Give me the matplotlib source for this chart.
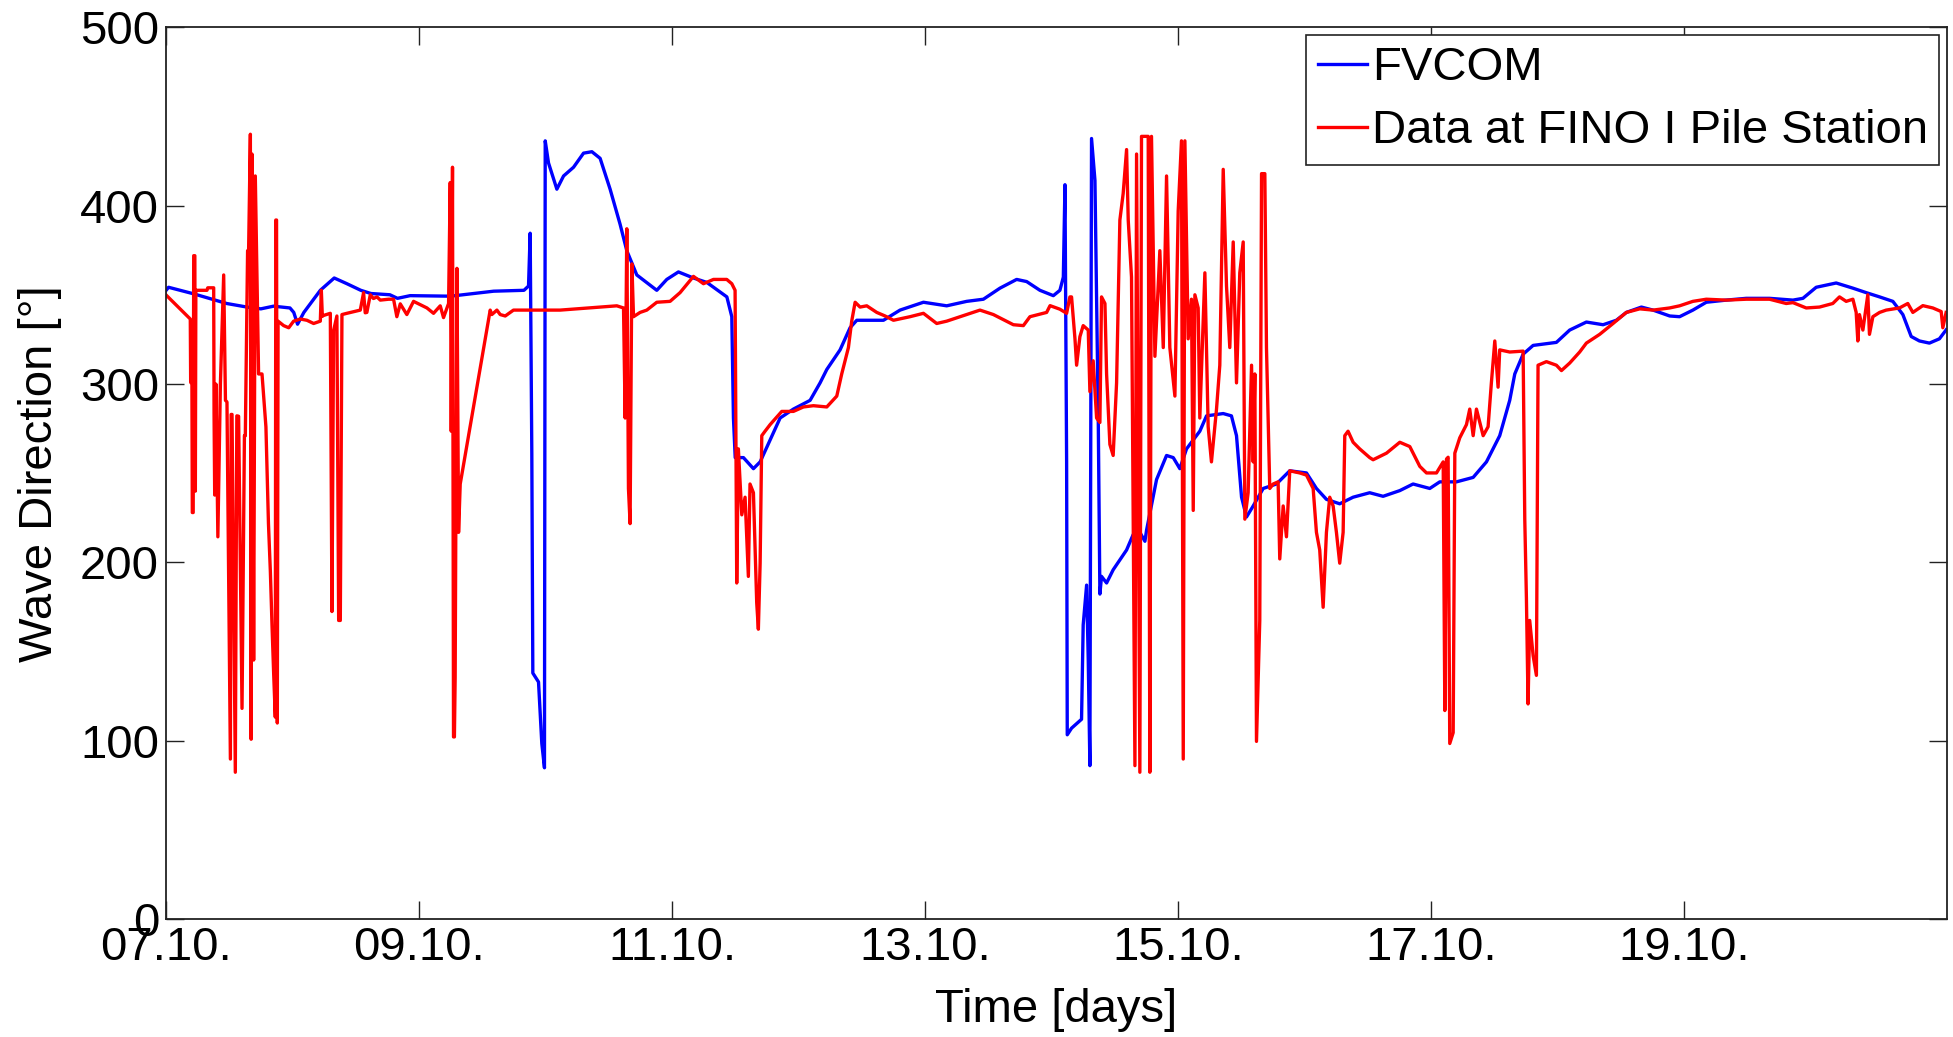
import matplotlib
matplotlib.use("Agg")
import matplotlib.pyplot as plt
import numpy as np

plt.rcParams['font.family'] = ['Liberation Sans', 'DejaVu Sans']

# ---- data (time in days since 07.10., direction in degrees) ----
fvcom_t = [0.00, 0.02, 0.22, 0.48, 0.64, 0.75, 0.85, 0.98, 1.01, 1.04, 1.09, 1.22, 1.33, 1.43, 1.54,
           1.62, 1.77, 1.83, 1.93, 2.25, 2.41, 2.59, 2.83, 2.866, 2.879, 2.892, 2.900, 2.945, 2.971,
           2.992, 2.998, 3.024, 3.09, 3.143, 3.222, 3.301, 3.367, 3.432, 3.511, 3.590, 3.643, 3.722,
           3.880, 3.959, 4.051, 4.170, 4.276, 4.434, 4.473, 4.486, 4.500, 4.565, 4.644, 4.697, 4.776,
           4.855, 4.960, 5.092, 5.171, 5.224, 5.329, 5.408, 5.461, 5.672, 5.803, 5.988, 6.172, 6.330,
           6.462, 6.593, 6.725, 6.804, 6.909, 7.015, 7.067, 7.094, 7.107, 7.120, 7.125, 7.159, 7.238,
           7.251, 7.278, 7.291, 7.304, 7.317, 7.344, 7.370, 7.383, 7.396, 7.436, 7.488, 7.594, 7.646,
           7.699, 7.739, 7.752, 7.831, 7.910, 7.963, 8.015, 8.068, 8.173, 8.226, 8.358, 8.423, 8.463,
           8.503, 8.542, 8.595, 8.674, 8.779, 8.884, 9.016, 9.095, 9.174, 9.279, 9.385, 9.516, 9.622,
           9.754, 9.859, 9.991, 10.070, 10.202, 10.334, 10.439, 10.544, 10.623, 10.663, 10.729, 10.808,
           10.992, 11.097, 11.229, 11.361, 11.466, 11.545, 11.664, 11.756, 11.888, 11.966, 12.071,
           12.177, 12.335, 12.493, 12.677, 12.862, 12.941, 13.046, 13.204, 13.336, 13.441, 13.547,
           13.652, 13.731, 13.797, 13.862, 13.941, 14.020, 14.073]
fvcom_v = [352.5, 354.3, 350.6, 345.2, 343.2, 342.2, 343.7, 342.7, 340.2, 333.6, 340.2, 352.6, 359.5,
           356.3, 352.6, 350.8, 350.1, 348.1, 349.6, 349.3, 350.6, 352.1, 352.6, 355.0, 384.6, 261.0,
           138.0, 133.0, 98.5, 84.9, 436.4, 424.0, 409.3, 416.7, 421.6, 429.5, 430.3, 426.6, 409.3,
           389.6, 374.8, 361.2, 352.6, 358.7, 362.9, 359.5, 357.0, 348.9, 337.8, 281.0, 258.8, 258.8,
           252.6, 256.4, 268.7, 281.0, 286.0, 290.9, 300.7, 308.2, 319.2, 331.6, 335.8, 335.8, 341.5,
           345.9, 343.9, 346.4, 347.6, 353.8, 358.7, 357.5, 352.6, 349.6, 352.6, 360.0, 411.8, 256.4,
           103.4, 107.1, 112.1, 165.0, 187.3, 145.3, 86.1, 437.7, 414.2, 281.0, 182.3, 192.2, 188.5,
           195.9, 207.0, 215.6, 216.9, 211.9, 218.1, 246.5, 260.0, 258.8, 252.6, 263.7, 273.6, 282.2,
           283.5, 282.2, 271.1, 236.6, 225.5, 231.7, 241.5, 244.0, 251.4, 250.2, 241.5, 235.4, 232.9,
           236.6, 239.1, 237.1, 240.3, 244.0, 241.5, 245.2, 245.2, 247.7, 256.4, 271.1, 290.9, 305.7,
           316.8, 321.7, 323.4, 330.3, 334.8, 333.3, 335.8, 340.2, 343.2, 341.5, 338.2, 337.8, 341.5,
           345.9, 347.1, 348.1, 348.1, 347.1, 348.1, 354.3, 356.7, 353.8, 351.3, 348.9, 346.4, 339.0,
           326.7, 324.2, 323.0, 325.4, 330.4]

fino_t = [0.00, 0.192, 0.195, 0.205, 0.208, 0.215, 0.219, 0.228, 0.232, 0.236, 0.324, 0.330, 0.377,
          0.380, 0.385, 0.395, 0.410, 0.430, 0.456, 0.470, 0.482, 0.509, 0.515, 0.522, 0.548, 0.560,
          0.574, 0.601, 0.620, 0.627, 0.645, 0.653, 0.667, 0.673, 0.680, 0.693, 0.706, 0.732, 0.759,
          0.790, 0.800, 0.810, 0.825, 0.838, 0.851, 0.864, 0.868, 0.874, 0.880, 0.886, 0.930, 0.970,
          1.009, 1.062, 1.114, 1.167, 1.220, 1.228, 1.236, 1.246, 1.299, 1.305, 1.312, 1.325, 1.351,
          1.365, 1.378, 1.391, 1.430, 1.536, 1.562, 1.575, 1.588, 1.615, 1.640, 1.668, 1.694, 1.760,
          1.799, 1.825, 1.852, 1.904, 1.957, 2.063, 2.115, 2.168, 2.194, 2.234, 2.247, 2.255, 2.265,
          2.273, 2.280, 2.286, 2.300, 2.313, 2.326, 2.563, 2.576, 2.616, 2.642, 2.682, 2.747, 3.116,
          3.564, 3.617, 3.630, 3.643, 3.656, 3.669, 3.683, 3.696, 3.748, 3.801, 3.880, 3.985, 4.064,
          4.170, 4.249, 4.328, 4.433, 4.473, 4.499, 4.512, 4.525, 4.552, 4.578, 4.604, 4.617, 4.644,
          4.670, 4.683, 4.697, 4.710, 4.736, 4.776, 4.868, 4.960, 5.039, 5.118, 5.224, 5.303, 5.342,
          5.395, 5.421, 5.448, 5.487, 5.540, 5.619, 5.685, 5.751, 5.882, 5.988, 6.093, 6.172, 6.277,
          6.435, 6.541, 6.699, 6.778, 6.830, 6.962, 6.989, 7.067, 7.120, 7.146, 7.159, 7.186, 7.199,
          7.225, 7.251, 7.291, 7.304, 7.330, 7.357, 7.383, 7.396, 7.423, 7.436, 7.462, 7.488, 7.515,
          7.541, 7.567, 7.594, 7.607, 7.633, 7.660, 7.673, 7.699, 7.712, 7.765, 7.778, 7.791, 7.818,
          7.857, 7.884, 7.910, 7.936, 7.976, 8.002, 8.028, 8.042, 8.055, 8.081, 8.107, 8.121, 8.134,
          8.160, 8.173, 8.213, 8.239, 8.265, 8.305, 8.331, 8.358, 8.384, 8.410, 8.437, 8.463, 8.489,
          8.516, 8.529, 8.555, 8.582, 8.595, 8.608, 8.621, 8.647, 8.661, 8.687, 8.700, 8.726, 8.753,
          8.792, 8.805, 8.832, 8.858, 8.884, 8.963, 9.016, 9.069, 9.095, 9.121, 9.148, 9.174, 9.200,
          9.227, 9.253, 9.279, 9.306, 9.319, 9.345, 9.385, 9.437, 9.516, 9.543, 9.649, 9.754, 9.833,
          9.912, 9.965, 10.044, 10.097, 10.110, 10.123, 10.136, 10.149, 10.176, 10.189, 10.228,
          10.281, 10.307, 10.334, 10.360, 10.413, 10.452, 10.478, 10.505, 10.531, 10.544, 10.623,
          10.729, 10.742, 10.755, 10.768, 10.781, 10.808, 10.834, 10.847, 10.913, 10.992, 11.032,
          11.097, 11.176, 11.229, 11.334, 11.440, 11.545, 11.651, 11.756, 11.887, 11.966, 12.071,
          12.177, 12.335, 12.493, 12.677, 12.809, 12.862, 12.967, 13.072, 13.177, 13.230, 13.283,
          13.336, 13.362, 13.375, 13.388, 13.415, 13.454, 13.467, 13.494, 13.547, 13.599, 13.704,
          13.770, 13.810, 13.889, 13.968, 14.034, 14.047, 14.073]
fino_v = [350.0, 336.5, 301.0, 300.0, 228.0, 228.0, 372.0, 372.0, 240.0, 352.6, 352.6, 354.0, 354.0,
          283.5, 237.8, 300.0, 214.4, 300.0, 361.2, 290.9, 290.0, 89.8, 283.0, 283.0, 82.4, 282.2,
          282.0, 118.2, 271.1, 271.0, 374.8, 374.8, 440.1, 100.9, 429.0, 145.3, 416.7, 305.7, 305.7,
          276.0, 248.9, 221.8, 195.0, 165.0, 138.0, 113.3, 392.0, 392.0, 110.0, 335.3, 332.8, 331.6,
          335.3, 336.5, 335.8, 334.0, 335.3, 352.6, 338.0, 338.5, 339.7, 261.3, 172.5, 330.0, 338.2,
          167.5, 167.5, 339.0, 339.7, 341.5, 351.3, 340.0, 340.2, 350.1, 348.0, 348.9, 347.1, 347.6,
          347.6, 337.8, 345.0, 339.0, 346.4, 342.7, 339.7, 343.9, 337.3, 345.2, 413.0, 273.6, 421.6,
          102.2, 102.2, 135.5, 364.9, 216.9, 244.0, 341.5, 339.0, 341.5, 339.0, 338.2, 341.5, 341.5,
          343.9, 342.7, 281.0, 387.1, 241.5, 221.8, 367.4, 337.8, 340.2, 341.5, 345.9, 346.4, 351.3,
          360.4, 356.3, 358.7, 358.7, 356.3, 352.6, 188.5, 263.7, 226.7, 236.6, 192.2, 244.0, 239.1,
          177.4, 162.6, 199.6, 271.1, 273.6, 277.3, 284.7, 284.7, 287.2, 287.9, 287.2, 293.3, 305.7,
          320.5, 335.3, 345.9, 343.2, 343.9, 340.2, 338.2, 335.8, 337.8, 339.7, 334.0, 335.3, 337.8,
          341.5, 339.0, 333.3, 332.8, 337.8, 340.2, 344.0, 342.0, 339.7, 348.9, 348.9, 325.4, 310.6,
          326.6, 332.8, 330.3, 295.8, 313.1, 281.0, 278.5, 348.9, 345.2, 305.7, 266.2, 260.0, 300.7,
          392.0, 406.8, 431.5, 392.0, 360.0, 86.1, 429.0, 82.4, 438.9, 438.9, 82.4, 438.9, 315.6,
          374.8, 320.5, 416.7, 320.5, 293.3, 397.0, 436.4, 89.8, 436.4, 325.4, 347.6, 229.2, 350.1,
          342.7, 281.0, 362.4, 276.1, 256.4, 286.0, 310.6, 420.4, 355.0, 320.5, 379.7, 300.7, 362.4,
          379.7, 224.3, 239.1, 310.6, 256.4, 305.7, 99.7, 167.5, 418.0, 418.0, 320.5, 241.5, 244.0,
          245.2, 202.0, 231.7, 214.4, 251.4, 250.2, 249.0, 241.5, 216.9, 207.0, 174.9, 216.9, 236.6,
          231.7, 216.9, 199.6, 216.9, 271.1, 273.6, 267.4, 263.7, 258.8, 257.6, 261.3, 267.4, 265.0,
          253.9, 250.2, 250.2, 256.4, 117.0, 258.0, 259.0, 98.5, 104.6, 261.3, 269.9, 277.3, 286.0,
          271.1, 286.0, 271.1, 276.1, 300.7, 324.2, 298.3, 319.2, 318.0, 318.5, 224.3, 179.9, 120.7,
          167.5, 147.8, 136.7, 310.6, 312.6, 310.6, 307.6, 311.8, 318.0, 323.0, 327.9, 334.0, 340.2,
          342.2, 341.5, 342.7, 343.9, 346.4, 347.6, 347.1, 347.6, 347.6, 345.2, 345.7, 342.7, 343.2,
          345.2, 348.9, 346.4, 347.6, 340.2, 324.2, 339.0, 330.3, 350.1, 327.9, 337.8, 340.2, 341.5,
          342.7, 345.2, 340.2, 344.0, 342.7, 340.7, 331.6, 340.2]

xtick_pos = [0, 2, 4, 6, 8, 10, 12]
xtick_labels = ['07.10.', '09.10.', '11.10.', '13.10.', '15.10.', '17.10.', '19.10.']
ytick_pos = [0, 100, 200, 300, 400, 500]

W, H = 1953, 1037
fig = plt.figure(figsize=(W / 100, H / 100), dpi=100)
ax = fig.add_axes([166 / W, 1 - 919.2 / H, (1947 - 166) / W, (919.2 - 27.4) / H])

ax.plot(fvcom_t, fvcom_v, color='#0000ff', lw=2.4, label='FVCOM')
ax.plot(fino_t, fino_v, color='#ff0000', lw=2.4, label='Data at FINO I Pile Station')

ax.set_xlim(0, 14.08)
ax.set_ylim(0, 500)
ax.set_xticks(xtick_pos)
ax.set_xticklabels(xtick_labels)
ax.set_yticks(ytick_pos)

fs = 34
ax.tick_params(direction='in', length=13, width=1.0, top=True, right=True,
               labelsize=fs, pad=5, colors='#222222', labelcolor='black')
for s in ax.spines.values():
    s.set_linewidth(1.3)
    s.set_color('#222222')

ax.set_xlabel('Time [days]', fontsize=fs, labelpad=13)
ax.set_ylabel('Wave Direction [°]', fontsize=fs, labelpad=13)

leg = ax.legend(loc='upper right', fontsize=fs, frameon=True, fancybox=False,
                edgecolor='#222222', framealpha=1, handlelength=1.05, handletextpad=0.1,
                labelspacing=0.4, borderpad=0.24, borderaxespad=0.16)
leg.get_frame().set_linewidth(1.2)

fig.savefig('out.png', dpi=100)
